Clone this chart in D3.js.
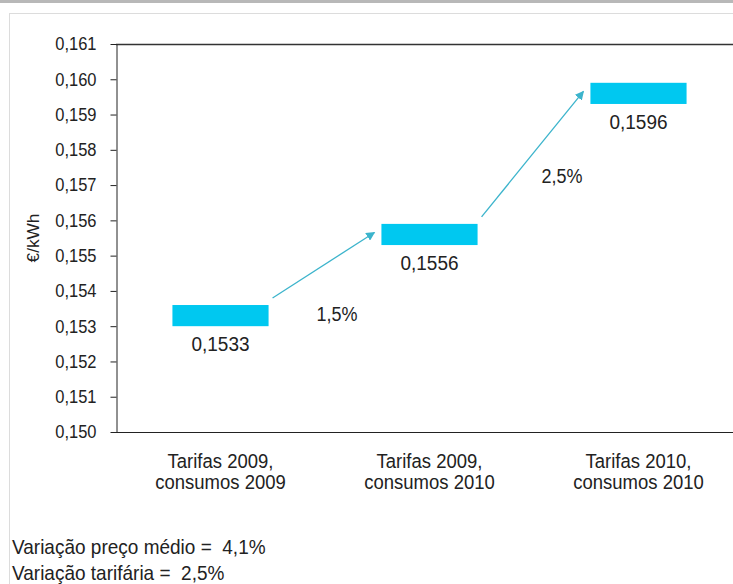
<!DOCTYPE html>
<html>
<head>
<meta charset="utf-8">
<script src="https://cdn.jsdelivr.net/npm/d3@7"></script>
<style>
    body { margin: 0; background: #fff; }
    svg { display: block; font-family: Arial, 'Liberation Sans', sans-serif; }
    text { white-space: pre; }
</style>
</head>
<body>
<div id="chart"></div>
<script>
// chart data
var categories = [['Tarifas 2009,', 'consumos 2009'], ['Tarifas 2009,', 'consumos 2010'], ['Tarifas 2010,', 'consumos 2010']];
var values = [0.1533, 0.1556, 0.1596];
var valueLabels = ['0,1533', '0,1556', '0,1596'];
var stepLabels = ['1,5%', '2,5%'];
var yTicks = [0.150, 0.151, 0.152, 0.153, 0.154, 0.155, 0.156, 0.157, 0.158, 0.159, 0.160, 0.161];
var notes = ['Variação preço médio =  4,1%', 'Variação tarifária =  2,5%'];

var width = 733,
    height = 584,
    margin = { top: 44, left: 116, bottom: 152 },
    stretch = 1.1;   // the source text is a little taller than it is wide

var svg = d3.select('#chart')
    .append('svg')
    .attr('width', width)
    .attr('height', height);

// place a text at x,y with the vertical stretch
function put(sel, fx, fy) {
    sel.attr('transform', function(d, i) {
        return 'translate(' + fx(d, i) + ',' + fy(d, i) + ') scale(1,' + stretch + ')';
    });
}

// window chrome bits round the chart
svg.append('rect')
    .attr('x', 0).attr('y', 0)
    .attr('width', width).attr('height', 3)
    .attr('fill', '#b8b8b8');
svg.append('rect')
    .attr('x', 9.5).attr('y', 13.5)
    .attr('width', width).attr('height', height)
    .attr('fill', 'none')
    .attr('stroke', '#dcdcdc');

var x = d3.scaleBand()
    .domain(d3.range(categories.length))
    .range([margin.left, margin.left + 627])
    .paddingInner(0.54)
    .paddingOuter(0.27);

var y = d3.scaleLinear()
    .domain([0.150, 0.161])
    .range([height - margin.bottom, margin.top]);

var fmt = function(d) { return d3.format('.3f')(d).replace('.', ','); };

// frame
svg.append('line')
    .attr('x1', margin.left).attr('x2', width)
    .attr('y1', y(0.161) + 0.5).attr('y2', y(0.161) + 0.5)
    .attr('stroke', '#333').attr('stroke-width', 1.5);

var yAxis = svg.append('g')
    .attr('transform', 'translate(' + (margin.left + 0.5) + ',0)')
    .call(d3.axisLeft(y).tickValues(yTicks).tickFormat(fmt).tickSize(6).tickSizeOuter(0).tickPadding(14));
yAxis.select('.domain').attr('stroke', '#222');
yAxis.selectAll('.tick line').attr('stroke', '#222');
yAxis.selectAll('text')
    .attr('font-size', 16.5)
    .attr('fill', '#222')
    .attr('transform', 'scale(1,' + stretch + ')');

svg.append('line')
    .attr('x1', margin.left).attr('x2', width)
    .attr('y1', y(0.150) + 0.5).attr('y2', y(0.150) + 0.5)
    .attr('stroke', '#222').attr('stroke-width', 1);

svg.append('text')
    .attr('transform', 'translate(33,' + y(0.1555) + ') rotate(-90) scale(1.08,1)')
    .attr('text-anchor', 'middle')
    .attr('dy', '0.35em')
    .attr('font-size', 16)
    .attr('fill', '#222')
    .text('€/kWh');

// floating bars
var half = 0.0003;
svg.selectAll('.bar')
    .data(values)
    .enter().append('rect')
    .attr('class', 'bar')
    .attr('x', function(d, i) { return x(i); })
    .attr('width', x.bandwidth())
    .attr('y', function(d) { return y(d + half); })
    .attr('height', function(d) { return y(d - half) - y(d + half); })
    .attr('fill', '#00c8f0');

svg.selectAll('.value')
    .data(values)
    .enter().append('text')
    .attr('class', 'value')
    .attr('text-anchor', 'middle')
    .attr('font-size', 19)
    .attr('fill', '#222')
    .text(function(d, i) { return valueLabels[i]; })
    .call(put,
        function(d, i) { return x(i) + x.bandwidth() / 2; },
        function(d) { return y(d - half) + 25; });

// arrows between bars
svg.append('defs').append('marker')
    .attr('id', 'head')
    .attr('viewBox', '0 0 10 10')
    .attr('refX', 9).attr('refY', 5)
    .attr('markerWidth', 9).attr('markerHeight', 9)
    .attr('markerUnits', 'userSpaceOnUse')
    .attr('orient', 'auto')
    .append('path')
    .attr('d', 'M0,0 L10,5 L0,10 Z')
    .attr('fill', '#3cb4cc');

var steps = d3.range(values.length - 1);
var stepOffset = [[12, 5], [28, -51]];   // label nudges, px
svg.selectAll('.arrow')
    .data(steps)
    .enter().append('line')
    .attr('class', 'arrow')
    .attr('x1', function(i) { return x(i) + x.bandwidth() + 4; })
    .attr('y1', function(i) { return y(values[i] + half) - 7; })
    .attr('x2', function(i) { return x(i + 1) - 7; })
    .attr('y2', function(i) { return y(values[i + 1]) - 2; })
    .attr('stroke', '#3cb4cc')
    .attr('stroke-width', 1.3)
    .attr('marker-end', 'url(#head)');

svg.selectAll('.step')
    .data(steps)
    .enter().append('text')
    .attr('class', 'step')
    .attr('text-anchor', 'middle')
    .attr('font-size', 18)
    .attr('fill', '#222')
    .text(function(d, i) { return stepLabels[i]; })
    .call(put,
        function(i) { return (x(i) + x.bandwidth() + x(i + 1)) / 2 + stepOffset[i][0]; },
        function(i) { return y(values[i]) + stepOffset[i][1]; });

// category labels
var cat = svg.selectAll('.cat')
    .data(categories)
    .enter().append('g')
    .attr('class', 'cat');
cat.selectAll('text')
    .data(function(d, i) { return d.map(function(t) { return { t: t, i: i }; }); })
    .enter().append('text')
    .attr('text-anchor', 'middle')
    .attr('font-size', 18.5)
    .attr('fill', '#222')
    .text(function(d) { return d.t; })
    .call(put,
        function(d) { return x(d.i) + x.bandwidth() / 2; },
        function(d, j) { return 468 + j * 21; });

// notes under the chart
svg.selectAll('.note')
    .data(notes)
    .enter().append('text')
    .attr('class', 'note')
    .attr('font-size', 19)
    .attr('fill', '#222')
    .text(function(d) { return d; })
    .call(put,
        function() { return 12; },
        function(d, i) { return 554 + i * 26; });
</script>
</body>
</html>
